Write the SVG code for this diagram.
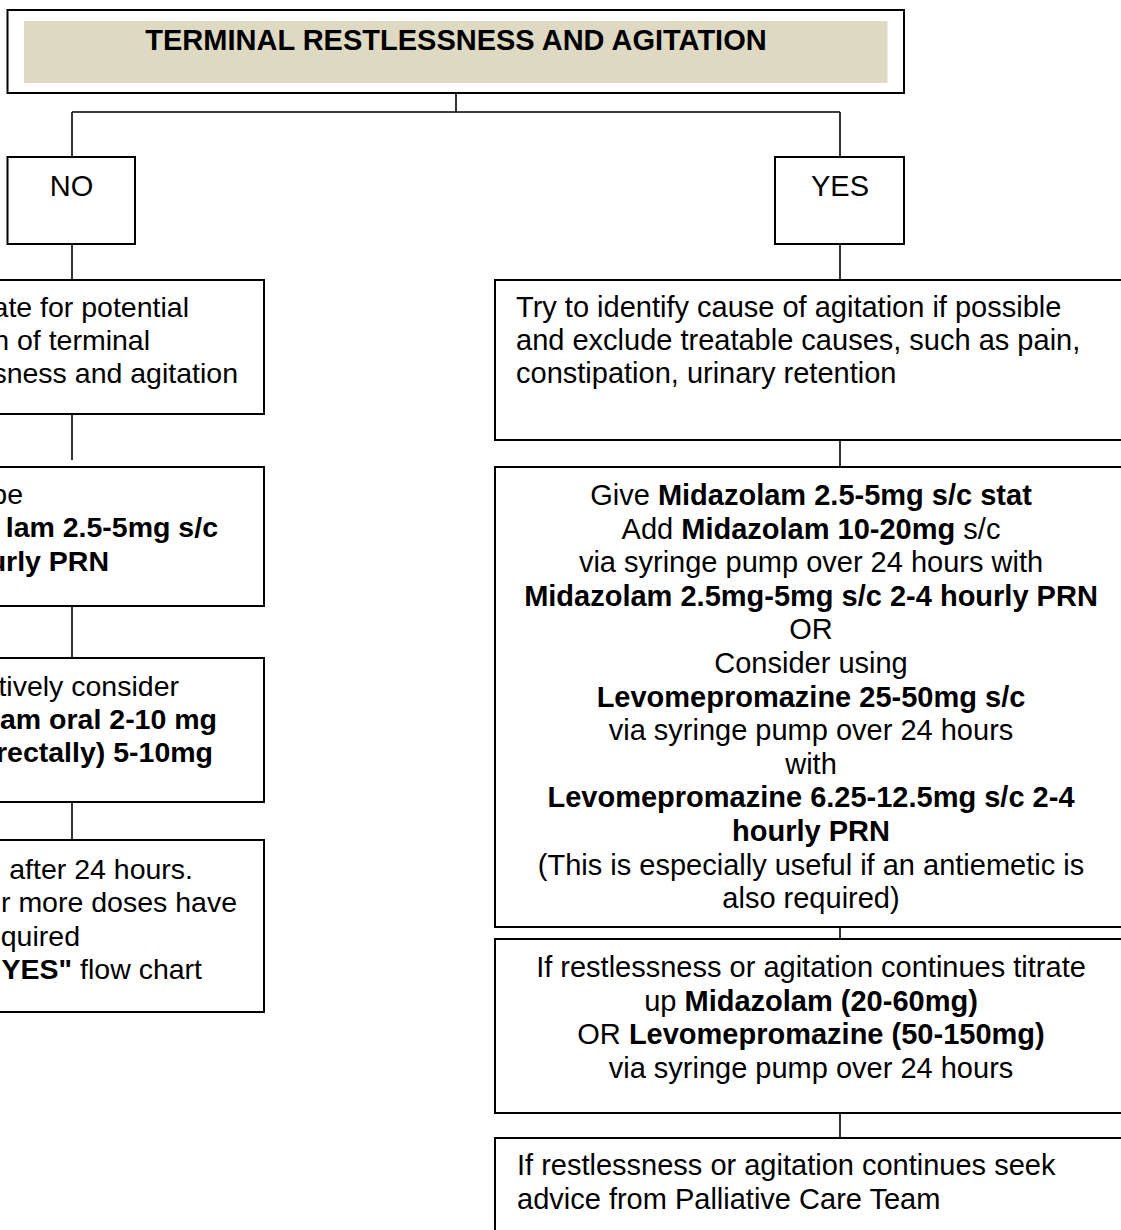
<svg xmlns="http://www.w3.org/2000/svg" width="1121" height="1230" viewBox="0 0 1121 1230">
<style>
  .box { fill: #ffffff; stroke: #000000; stroke-width: 2; }
  .conn { stroke: #000000; stroke-width: 1.6; fill: none; }
  text { font-family: "Liberation Sans", Arial, sans-serif; font-size: 29px; fill: #000000; }
  .l { font-size: 28.5px; }
  .b { font-weight: bold; }
  .c { text-anchor: middle; }
  .e { text-anchor: end; }
</style>
<rect x="0" y="0" width="1121" height="1230" fill="#ffffff"/>

<g id="connectors">
  <line class="conn" x1="456" y1="93" x2="456" y2="112"/>
  <line class="conn" x1="72" y1="112" x2="840" y2="112"/>
  <line class="conn" x1="72" y1="112" x2="72" y2="157"/>
  <line class="conn" x1="840" y1="112" x2="840" y2="157"/>
  <line class="conn" x1="72" y1="244" x2="72" y2="280"/>
  <line class="conn" x1="840" y1="244" x2="840" y2="280"/>
  <line class="conn" x1="72" y1="414" x2="72" y2="460"/>
  <line class="conn" x1="72" y1="606" x2="72" y2="658"/>
  <line class="conn" x1="72" y1="802" x2="72" y2="840"/>
  <line class="conn" x1="840" y1="440" x2="840" y2="467"/>
  <line class="conn" x1="840" y1="927" x2="840" y2="939"/>
  <line class="conn" x1="840" y1="1113" x2="840" y2="1138"/>
</g>

<g id="title">
  <rect class="box" x="7.5" y="10" width="896.5" height="83"/>
  <rect x="24" y="21" width="863.5" height="62" fill="#DDD9C3"/>
  <text class="b c" x="456" y="50">TERMINAL RESTLESSNESS AND AGITATION</text>
</g>

<g id="no">
  <rect class="box" x="7.5" y="157" width="127.5" height="87"/>
  <text class="c" x="71.5" y="196">NO</text>
</g>

<g id="yes">
  <rect class="box" x="775" y="157" width="129" height="87"/>
  <text class="c" x="840" y="196">YES</text>
</g>

<g id="left1">
  <rect class="box" x="-20" y="280" width="284" height="134"/>
  <text class="e l" x="189" y="317">ate for potential</text>
  <text class="e l" x="150" y="350">n of terminal</text>
  <text class="e l" x="238" y="383">sness and agitation</text>
</g>

<g id="left2">
  <rect class="box" x="-20" y="467" width="284" height="139"/>
  <text class="e l" x="23" y="504">be</text>
  <text class="e l b" x="218" y="537">lam 2.5-5mg s/c</text>
  <text class="e l b" x="109" y="571">urly PRN</text>
</g>

<g id="left3">
  <rect class="box" x="-20" y="658" width="284" height="144"/>
  <text class="e l" x="179" y="696">tively consider</text>
  <text class="e l b" x="217" y="729">am oral 2-10 mg</text>
  <text class="e l b" x="213" y="762">rectally) 5-10mg</text>
</g>

<g id="left4">
  <rect class="box" x="-20" y="840" width="284" height="172"/>
  <text class="e l" x="193" y="879">after 24 hours.</text>
  <text class="e l" x="237" y="912">r more doses have</text>
  <text class="e l" x="80" y="946">quired</text>
  <text class="e l" x="202" y="979"><tspan class="b">YES"</tspan> flow chart</text>
</g>

<g id="right1">
  <rect class="box" x="495" y="280" width="640" height="160"/>
  <text x="516" y="317">Try to identify cause of agitation if possible</text>
  <text x="516" y="350">and exclude treatable causes, such as pain,</text>
  <text x="516" y="383">constipation, urinary retention</text>
</g>

<g id="right2">
  <rect class="box" x="495" y="467" width="640" height="460"/>
  <text class="c" x="811" y="505">Give <tspan class="b">Midazolam 2.5-5mg s/c stat</tspan></text>
  <text class="c" x="811" y="538.6">Add <tspan class="b">Midazolam 10-20mg</tspan> s/c</text>
  <text class="c" x="811" y="572.2">via syringe pump over 24 hours with</text>
  <text class="c b" x="811" y="605.8">Midazolam 2.5mg-5mg s/c 2-4 hourly PRN</text>
  <text class="c" x="811" y="639.4">OR</text>
  <text class="c" x="811" y="673">Consider using</text>
  <text class="c b" x="811" y="706.6">Levomepromazine 25-50mg s/c</text>
  <text class="c" x="811" y="740.2">via syringe pump over 24 hours</text>
  <text class="c" x="811" y="773.8">with</text>
  <text class="c b" x="811" y="807.4">Levomepromazine 6.25-12.5mg s/c 2-4</text>
  <text class="c b" x="811" y="841">hourly PRN</text>
  <text class="c" x="811" y="874.6">(This is especially useful if an antiemetic is</text>
  <text class="c" x="811" y="908.2">also required)</text>
</g>

<g id="right3">
  <rect class="box" x="495" y="939" width="640" height="174"/>
  <text class="c" x="811" y="977">If restlessness or agitation continues titrate</text>
  <text class="c" x="811" y="1010.5">up <tspan class="b">Midazolam (20-60mg)</tspan></text>
  <text class="c" x="811" y="1044">OR <tspan class="b">Levomepromazine (50-150mg)</tspan></text>
  <text class="c" x="811" y="1077.5">via syringe pump over 24 hours</text>
</g>

<g id="right4">
  <rect class="box" x="495" y="1138" width="640" height="120"/>
  <text x="517" y="1175">If restlessness or agitation continues seek</text>
  <text x="517" y="1209">advice from Palliative Care Team</text>
</g>
</svg>
